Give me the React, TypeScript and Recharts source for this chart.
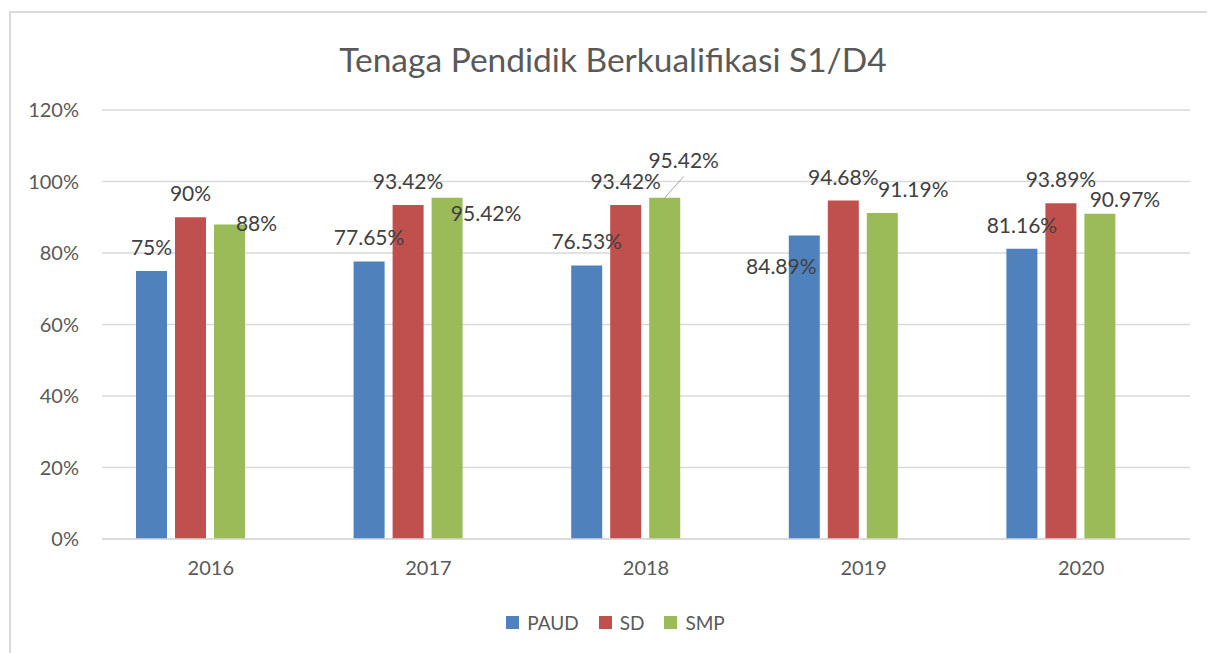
import React from "react";
import {
  BarChart,
  Bar,
  XAxis,
  YAxis,
  CartesianGrid,
  Legend,
  LabelList,
} from "recharts";

const years = ["2016", "2017", "2018", "2019", "2020"];
const paud = [75, 77.65, 76.53, 84.89, 81.16];
const sd = [90, 93.42, 93.42, 94.68, 93.89];
const smp = [88, 95.42, 95.42, 91.19, 90.97];
const yTicks = [0, 20, 40, 60, 80, 100, 120];

// label nudges (px) copied from the hand-moved labels in the original
const nudgePaud = { dx: [0, 0, 0, -23, 0], dy: [0, 0, 0, 54, 0] };
const nudgeSd = { dx: [0, 0, 0, 0, 0], dy: [0, 0, 0, 0, 0] };
const nudgeSmp = { dx: [27, 39, 19, 31, 25], dy: [23, 39, -14, 0, 9] };

const COLORS = { PAUD: "#4F81BD", SD: "#C0504D", SMP: "#9BBB59" };
const FONT = "Lato, 'Open Sans', sans-serif";

const data = years.map((year, i) => ({
  year,
  PAUD: paud[i],
  SD: sd[i],
  SMP: smp[i],
}));

const makeLabel =
  (nudge: { dx: number[]; dy: number[] }, leader?: number) => (props: any) => {
    const { x, y, width, value, index } = props;
    const barX = Number(x) + Number(width) / 2;
    const cx = barX + nudge.dx[index];
    const cy = Number(y) - 24.5 + nudge.dy[index];
    return (
      <g>
        {leader === index && (
          <line x1={cx} y1={cy + 17} x2={barX} y2={Number(y)} stroke="#a6a6a6" strokeWidth={1} />
        )}
        <text
          x={cx}
          y={cy}
          textAnchor="middle"
          dominantBaseline="central"
          fontSize={21}
          fontFamily={FONT}
          fill="#404040"
        >
          {`${value}%`}
        </text>
      </g>
    );
  };

const renderLegend = () => (
  <div
    style={{
      display: "flex",
      justifyContent: "center",
      alignItems: "center",
      fontFamily: FONT,
      fontSize: 19,
      color: "#595959",
    }}
  >
    {(["PAUD", "SD", "SMP"] as const).map((k) => (
      <div key={k} style={{ display: "flex", alignItems: "center", marginRight: 20 }}>
        <span style={{ width: 13, height: 13, background: COLORS[k], marginRight: 8 }} />
        <span>{k}</span>
      </div>
    ))}
  </div>
);

export default function App() {
  return (
    <div style={{ position: "relative", width: 1207, height: 645, overflow: "hidden", background: "#fff" }}>
      <div
        style={{
          position: "absolute",
          left: 1,
          top: 3,
          width: 1400,
          height: 800,
          border: "2px solid #d9d9d9",
        }}
      />
      <div
        style={{
          position: "absolute",
          left: 0,
          top: 31,
          width: 1210,
          textAlign: "center",
          fontFamily: FONT,
          fontSize: 33.5,
          color: "#595959",
        }}
      >
        Tenaga Pendidik Berkualifikasi S1/D4
      </div>
      <BarChart
        width={1207}
        height={645}
        data={data}
        margin={{ top: 102, right: 25, bottom: 84, left: 0 }}
        barCategoryGap={34}
        barGap={8}
        style={{ position: "absolute", left: 0, top: 0 }}
      >
        <CartesianGrid vertical={false} stroke="#d9d9d9" strokeWidth={1.5} />
        <XAxis
          dataKey="year"
          height={30}
          tickLine={false}
          tickSize={0}
          tickMargin={22}
          axisLine={{ stroke: "#d9d9d9", strokeWidth: 1.5 }}
          tick={{ fontSize: 20, fontFamily: FONT, fill: "#595959" }}
        />
        <YAxis
          width={94}
          domain={[0, 120]}
          ticks={yTicks}
          tickFormatter={(v: number) => `${v}%`}
          tickLine={false}
          axisLine={false}
          tickSize={0}
          tickMargin={23}
          tick={{ fontSize: 20, fontFamily: FONT, fill: "#595959" }}
        />
        <Legend
          layout="vertical"
          align="center"
          verticalAlign="middle"
          content={renderLegend}
          wrapperStyle={{ position: "absolute", left: 0, top: 603, width: 1235 }}
        />
        <Bar dataKey="PAUD" fill={COLORS.PAUD} isAnimationActive={false}>
          <LabelList dataKey="PAUD" content={makeLabel(nudgePaud)} />
        </Bar>
        <Bar dataKey="SD" fill={COLORS.SD} isAnimationActive={false}>
          <LabelList dataKey="SD" content={makeLabel(nudgeSd)} />
        </Bar>
        <Bar dataKey="SMP" fill={COLORS.SMP} isAnimationActive={false}>
          <LabelList dataKey="SMP" content={makeLabel(nudgeSmp, 2)} />
        </Bar>
        <Bar dataKey="kosong" fill="none" legendType="none" isAnimationActive={false} />
      </BarChart>
    </div>
  );
}
